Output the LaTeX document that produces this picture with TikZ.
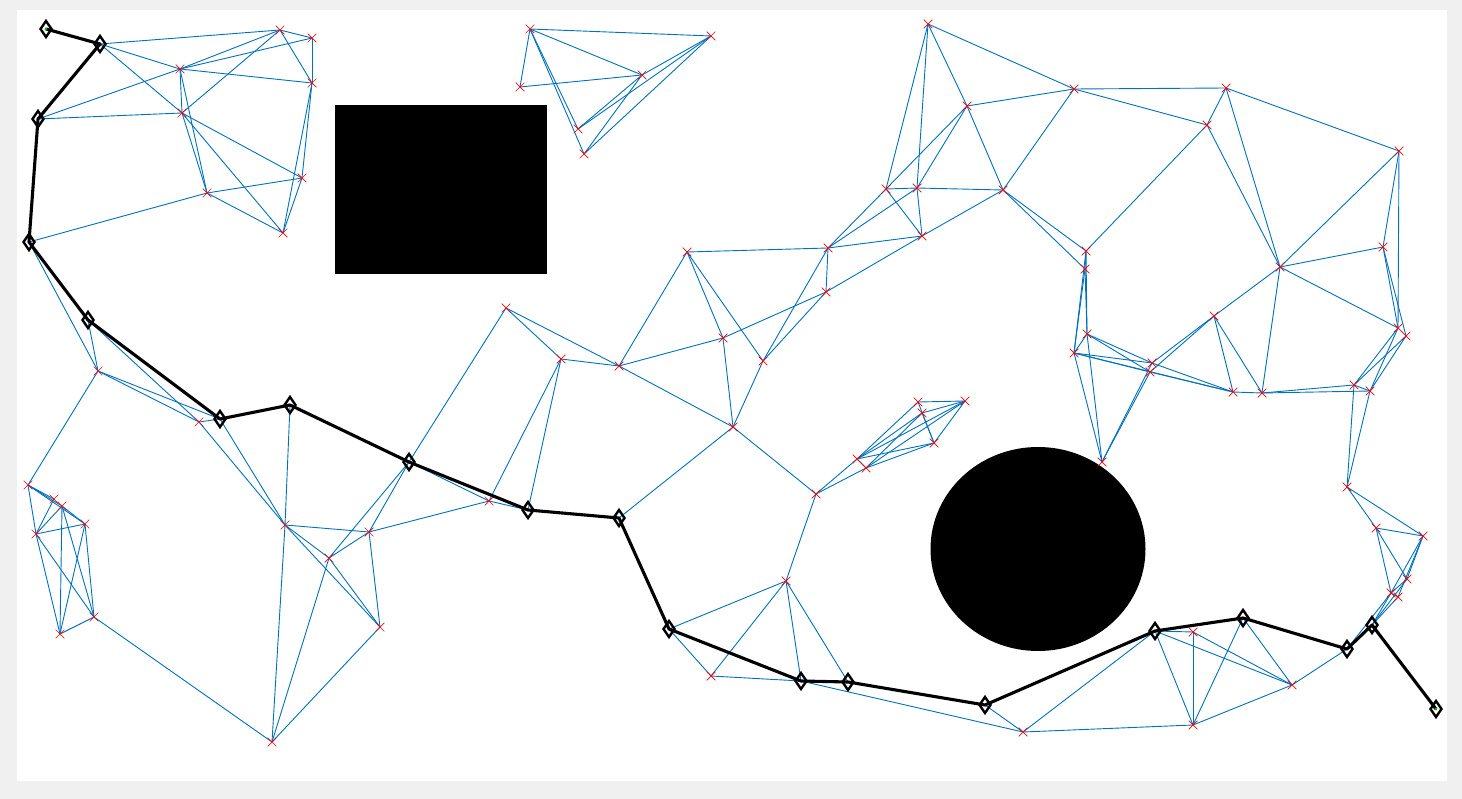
\documentclass[tikz,border=0pt]{standalone}
\usetikzlibrary{shapes.misc}
\definecolor{edgeblue}{HTML}{0072BD}
\definecolor{figgray}{HTML}{F0F0F0}
\definecolor{startgreen}{HTML}{00C000}
\begin{document}
\begin{tikzpicture}[x=1pt,y=-1pt,
  edge/.style={draw=edgeblue, line width=0.9pt},
  sample/.style={cross out, draw=red, minimum size=8pt, inner sep=0pt, line width=0.7pt},
  route/.style={draw=black, line width=3.1pt, line join=round},
  waypoint/.style={draw=black, line width=2.4pt, line join=miter},
  obstacle/.style={fill=black}]
\fill[figgray] (0,0) rectangle (1462,799);
\fill[white] (17,10) rectangle (1447,781);
\useasboundingbox (0,0) rectangle (1462,799);
% obstacles
\fill[obstacle] (335,105) rectangle (547,274);
\fill[obstacle] (1038,549) ellipse [x radius=107.5pt, y radius=102pt];
% path nodes
\coordinate (p0) at (46,29);
\coordinate (p1) at (100,44);
\coordinate (p2) at (38,119);
\coordinate (p3) at (29,242);
\coordinate (p4) at (88,320);
\coordinate (p5) at (220,419);
\coordinate (p6) at (290,405);
\coordinate (p7) at (409,462);
\coordinate (p8) at (528,510);
\coordinate (p9) at (619,518);
\coordinate (p10) at (669,629);
\coordinate (p11) at (801,681);
\coordinate (p12) at (848,682);
\coordinate (p13) at (985,705);
\coordinate (p14) at (1155,631);
\coordinate (p15) at (1243,618);
\coordinate (p16) at (1347,649);
\coordinate (p17) at (1372,625);
\coordinate (p18) at (1436,709);
% sample nodes
\coordinate (a) at (280,30);
\coordinate (b) at (312,38);
\coordinate (c) at (180,69);
\coordinate (d) at (312,83);
\coordinate (e) at (182,113);
\coordinate (f) at (302,178);
\coordinate (g) at (207,193);
\coordinate (h) at (283,233);
\coordinate (i) at (98,371);
\coordinate (j) at (199,422);
\coordinate (k) at (28,485);
\coordinate (k2) at (54,499);
\coordinate (k3) at (62,506);
\coordinate (n) at (85,524);
\coordinate (m) at (36,534);
\coordinate (o) at (60,634);
\coordinate (q) at (94,617);
\coordinate (l) at (285,525);
\coordinate (s) at (329,558);
\coordinate (t) at (369,532);
\coordinate (u) at (380,627);
\coordinate (r) at (272,742);
\coordinate (A1) at (530,29);
\coordinate (A2) at (711,36);
\coordinate (A3) at (520,87);
\coordinate (A4) at (642,75);
\coordinate (A5) at (578,129);
\coordinate (A6) at (584,154);
\coordinate (B1) at (687,252);
\coordinate (C1) at (506,308);
\coordinate (C2) at (561,359);
\coordinate (C3) at (619,366);
\coordinate (C4) at (723,338);
\coordinate (C5) at (489,501);
\coordinate (C6) at (733,427);
\coordinate (D1) at (711,676);
\coordinate (D2) at (786,581);
\coordinate (E1) at (928,24);
\coordinate (E2) at (1074,89);
\coordinate (E3) at (967,106);
\coordinate (E4) at (886,189);
\coordinate (E5) at (917,188);
\coordinate (E6) at (1003,190);
\coordinate (E7) at (922,236);
\coordinate (E8) at (828,248);
\coordinate (E9) at (1086,251);
\coordinate (E10) at (1085,269);
\coordinate (E11) at (826,292);
\coordinate (F1) at (763,361);
\coordinate (G1) at (816,494);
\coordinate (H1) at (918,402);
\coordinate (H2) at (965,401);
\coordinate (H3) at (922,413);
\coordinate (H4) at (934,443);
\coordinate (H5) at (857,459);
\coordinate (H6) at (866,468);
\coordinate (I2) at (1087,334);
\coordinate (I3) at (1074,353);
\coordinate (J1) at (1023,732);
\coordinate (K1) at (1226,88);
\coordinate (K2) at (1207,125);
\coordinate (K3) at (1399,151);
\coordinate (K4) at (1280,267);
\coordinate (K5) at (1383,247);
\coordinate (L1) at (1152,363);
\coordinate (L2) at (1150,372);
\coordinate (L3) at (1214,316);
\coordinate (L4) at (1233,392);
\coordinate (L5) at (1262,393);
\coordinate (L6) at (1354,385);
\coordinate (L7) at (1370,391);
\coordinate (L8) at (1398,328);
\coordinate (L9) at (1406,336);
\coordinate (M1) at (1102,462);
\coordinate (M2) at (1347,487);
\coordinate (N1) at (1376,528);
\coordinate (N2) at (1423,536);
\coordinate (N3) at (1407,579);
\coordinate (N4) at (1391,593);
\coordinate (N5) at (1398,597);
\coordinate (O1) at (1193,632);
\coordinate (O2) at (1292,685);
\coordinate (O3) at (1193,725);
% roadmap edges
\foreach \u/\v in {p1/a,p1/c,p1/e,a/c,a/b,a/d,a/e,c/b,c/d,c/p2,c/g,c/e,b/d,d/f,d/h,e/p2,e/f,e/h,e/g,g/f,g/h,g/p3,f/h,
  p3/i,p4/i,p4/j,i/j,i/p5,j/p5,j/l,p5/l,p6/l,i/k,
  k/k2,k/k3,k/n,k/m,k2/m,k3/m,k3/n,k3/o,k3/q,m/n,m/o,m/q,n/o,n/q,o/q,q/r,
  r/l,r/s,r/u,l/t,l/s,l/u,s/t,s/u,t/u,p7/s,p7/t,t/C5,
  A1/A2,A1/A3,A1/A4,A1/A5,A1/A6,A3/A4,A4/A2,A4/A5,A4/A6,A2/A5,A2/A6,
  p7/C1,p7/C5,C5/p8,C5/C2,C1/C2,C1/C3,C2/C3,C2/p8,C3/C4,C3/C6,C3/B1,B1/C4,B1/F1,B1/E8,C4/C6,C4/E11,C6/F1,C6/G1,C6/p9,p8/p9,
  E1/E2,E1/E3,E1/E4,E1/E5,E3/E2,E3/E4,E3/E5,E3/E6,E2/E6,E4/E5,E4/E8,E4/E7,E5/E8,E5/E7,E5/E6,E7/E8,E7/E6,E7/E11,E8/E11,E8/F1,E11/F1,E6/E9,E6/E10,
  G1/H5,G1/H6,G1/D2,H1/H2,H1/H5,H1/H4,H3/H2,H3/H4,H3/H5,H3/H6,H2/H4,H2/H5,H2/H6,H4/H5,H4/H6,H5/H6,
  p10/D1,p10/D2,D2/D1,D2/p11,D2/p12,D1/p11,p11/p12,p11/J1,p12/p13,p13/J1,J1/O3,J1/p14,
  E2/K1,E2/K2,K1/K2,K1/K4,K1/K3,K2/K4,K2/E9,K3/K4,K3/K5,K3/L8,K5/K4,K5/L8,K5/L9,
  E9/E10,E9/I3,E10/I3,E10/I2,E9/I2,I2/I3,I2/L1,I2/L2,I3/L1,I3/L2,I3/L4,L1/L4,L2/L4,M1/I2,M1/I3,M1/L1,M1/L2,
  L3/K4,L3/L1,L3/L2,L3/L4,L3/L5,L4/L5,K4/L5,K4/L8,L8/L6,L8/L7,L9/L6,L9/L7,L6/L7,L5/L6,L5/L7,L6/M2,L7/M2,
  M2/N1,M2/N2,N1/N2,N1/N3,N1/N4,N2/N3,N2/N4,N2/N5,N3/N4,N4/N5,N3/p17,N4/p17,N5/p17,N4/p16,O2/p16,
  p14/O1,p14/O2,p14/O3,O1/O3,O1/O2,p15/O3,p15/O2,O3/O2}
  \draw[edge] (\u) -- (\v);
% sample markers
\foreach \n in {a,b,c,d,e,f,g,h,i,j,k,k2,k3,n,m,o,q,l,s,t,u,r,
  A1,A2,A3,A4,A5,A6,B1,C1,C2,C3,C4,C5,C6,D1,D2,
  E1,E2,E3,E4,E5,E6,E7,E8,E9,E10,E11,F1,G1,H1,H2,H3,H4,H5,H6,
  I2,I3,J1,K1,K2,K3,K4,K5,L1,L2,L3,L4,L5,L6,L7,L8,L9,M1,M2,
  N1,N2,N3,N4,N5,O1,O2,O3}
  \node[sample] at (\n) {};
% shortest path
\draw[route] (p0) -- (p1) -- (p2) -- (p3) -- (p4) -- (p5) -- (p6) -- (p7) -- (p8) -- (p9)
  -- (p10) -- (p11) -- (p12) -- (p13) -- (p14) -- (p15) -- (p16) -- (p17) -- (p18);
\foreach \n in {p0,p1,p2,p3,p4,p5,p6,p7,p8,p9,p10,p11,p12,p13,p14,p15,p16,p17,p18}
  \draw[waypoint] (\n) ++(0,-8) -- ++(5.5,8) -- ++(-5.5,8) -- ++(-5.5,-8) -- cycle;
\fill[startgreen] (p0) circle[radius=1.6pt];
\fill[startgreen] (p18) circle[radius=1.6pt];
\end{tikzpicture}
\end{document}
